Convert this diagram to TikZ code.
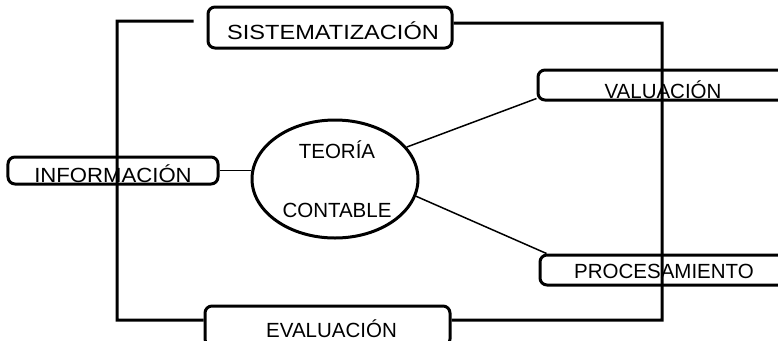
\documentclass[tikz,border=0pt]{standalone}
\usepackage{fontspec}
\setmainfont{Liberation Sans}
\usepackage{graphicx}
\usetikzlibrary{shapes.geometric}
\newcommand\lblfont{\fontsize{20.5bp}{24bp}\selectfont}
\tikzset{
  box/.style={draw, line width=3bp, rounded corners=7bp, inner xsep=0pt, inner ysep=0pt, font=\lblfont},
  framerule/.style={line width=3bp},
  link/.style={line width=1.5bp},
  txt/.style={font=\lblfont, anchor=base, inner sep=0pt}
}
\begin{document}
\begin{tikzpicture}[x=1bp, y=-1bp]
\useasboundingbox (0,0) rectangle (778,340);
\clip (0,0) rectangle (778,340);
% boxes
\node[box, minimum width=244bp, text height=32bp, text depth=9bp] (sist) at (330,27.5) {\hspace{6bp}\scalebox{1.15}[1]{SISTEMATIZACIÓN}};
\node[box, minimum width=250bp, text height=28bp, text depth=2bp] (val) at (663,85) {VALUACIÓN};
\node[box, minimum width=248bp, text height=23bp, text depth=7bp] (proc) at (664,270) {PROCESAMIENTO};
\node[box, minimum width=210bp, text height=25bp, text depth=2bp] (info) at (113,170.5) {\scalebox{1.08}[1]{INFORMACIÓN}};
\node[box, minimum width=245bp, text height=31bp, text depth=9bp] (eval) at (327.5,326) {\hspace{8bp}EVALUACIÓN};
% central ellipse
\node[draw, ellipse, line width=3bp, minimum width=166bp, minimum height=118bp, inner sep=0pt] (teoria) at (335,179) {};
\node[txt] (t1) at (337,158) {TEORÍA};
\node[txt] (t2) at (337,217) {CONTABLE};
% thin links
\draw[link] (info.east) -- (teoria.west |- info.east);
\draw[link] (teoria.24) -- ([yshift=3bp]val.south west);
\draw[link] (teoria.-12) -- ([xshift=8bp]proc.north west);
% frame
\coordinate (tl) at (117,21);
\coordinate (bl) at (117,320);
\coordinate (tr) at (662,23);
\coordinate (br) at (662,320);
\draw[framerule, shorten <=13bp] ([yshift=6.5bp]sist.west) -- (tl) -- (bl) -- (eval.west |- bl);
\draw[framerule] ([yshift=4.5bp]sist.east) -- (tr) -- (br) -- (eval.east |- br);
\end{tikzpicture}
\end{document}
